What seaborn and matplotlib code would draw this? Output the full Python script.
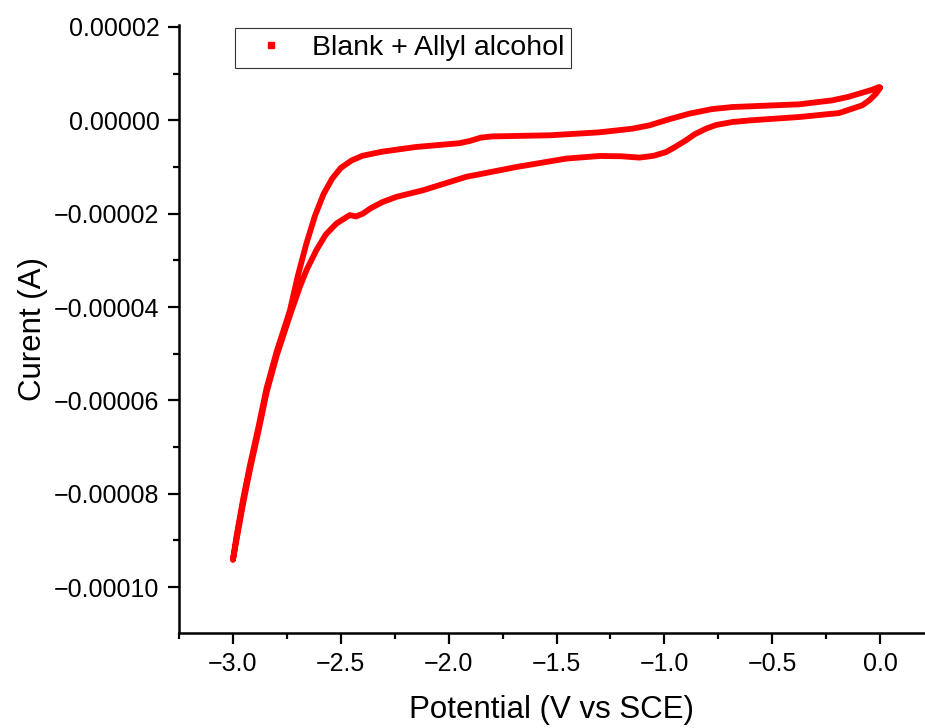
import matplotlib
matplotlib.use("Agg")
import matplotlib.pyplot as plt
import seaborn as sns
import pandas as pd
import numpy as np
from matplotlib.lines import Line2D
from matplotlib.ticker import MultipleLocator, FuncFormatter

# Forward (cathodic) scan: 0 V -> -3 V
fwd_potential = [0.0, -0.019, -0.050, -0.083, -0.190, -0.375, -0.600, -0.684, -0.760, -0.807,
                 -0.860, -0.900, -0.950, -0.992, -1.050, -1.116, -1.200, -1.301, -1.455,
                 -1.686, -1.918, -2.120, -2.242, -2.306, -2.360, -2.398, -2.430, -2.458,
                 -2.520, -2.570, -2.613, -2.659, -2.690, -2.736, -2.797, -2.844, -2.883,
                 -2.921, -2.952, -2.983, -3.0]
fwd_current_uA = [7.0, 5.72, 4.3, 3.21, 1.56, 0.71, 0.0, -0.36, -1.0, -1.78,
                  -3.0, -4.28, -5.7, -6.79, -7.6, -7.99, -7.7, -7.64, -8.20,
                  -10.0, -12.1, -15.0, -16.4, -17.5, -18.8, -20.0, -20.6, -20.3,
                  -22.1, -24.5, -27.8, -32.1, -35.7, -41.8, -50.4, -58.3, -66.9,
                  -74.8, -81.9, -89.8, -94.2]

# Reverse (anodic) scan: -3 V -> 0 V
rev_potential = [-3.0, -2.983, -2.952, -2.921, -2.883, -2.844, -2.797, -2.736, -2.700,
                 -2.660, -2.620, -2.580, -2.540, -2.500, -2.450, -2.400, -2.306, -2.149,
                 -1.950, -1.900, -1.850, -1.800, -1.532, -1.301, -1.150, -1.069, -0.980,
                 -0.884, -0.780, -0.685, -0.375, -0.222, -0.150, -0.097, -0.040, -0.005, 0.0]
rev_current_uA = [-94.2, -89.0, -81.0, -73.9, -66.0, -57.4, -49.5, -40.8, -33.5,
                  -26.5, -20.5, -15.8, -12.5, -10.2, -8.6, -7.6, -6.7, -5.7,
                  -4.9, -4.4, -3.7, -3.45, -3.21, -2.57, -1.8, -1.07, 0.2,
                  1.43, 2.4, 2.85, 3.43, 4.28, 5.0, 5.72, 6.5, 7.13, 7.0]

series_label = "Blank + Allyl alcohol"
x_label = "Potential (V vs SCE)"
y_label = "Curent (A)"

potential = fwd_potential + rev_potential
current = [v * 1e-6 for v in fwd_current_uA + rev_current_uA]
df = pd.DataFrame({"potential": potential, "current": current})

sns.set_theme(style="ticks")
plt.rcParams["font.family"] = ["Liberation Sans", "DejaVu Sans"]
plt.rcParams["text.color"] = "black"
plt.rcParams["axes.labelcolor"] = "black"

fig = plt.figure(figsize=(9.25, 7.28), dpi=100)
ax = fig.add_axes([0.1935, 0.1305, 0.8065, 0.835])

sns.lineplot(data=df, x="potential", y="current", sort=False, estimator=None,
             color="#ff0000", linewidth=4.2, ax=ax, legend=False)

ax.set_xlim(-3.25, 0.208)
ax.set_ylim(-1.0985e-4, 2.04e-5)

ax.xaxis.set_major_locator(MultipleLocator(0.5))
ax.xaxis.set_minor_locator(MultipleLocator(0.25))
ax.yaxis.set_major_locator(MultipleLocator(2e-5))
ax.yaxis.set_minor_locator(MultipleLocator(1e-5))

ax.xaxis.set_major_formatter(FuncFormatter(lambda v, p: f"{v:.1f}".replace("-", "\u2212") if abs(v) > 1e-9 else "0.0"))
ax.yaxis.set_major_formatter(FuncFormatter(lambda v, p: f"{v:.5f}".replace("-", "\u2212") if abs(v) > 1e-12 else "0.00000"))

for side in ["top", "right"]:
    ax.spines[side].set_visible(False)
for side in ["left", "bottom"]:
    ax.spines[side].set_linewidth(1.8)
    ax.spines[side].set_color("black")

ax.tick_params(axis="both", which="major", direction="out", length=8, width=1.6,
               labelsize=18, colors="black", labelcolor="black", pad=6)
ax.tick_params(axis="both", which="minor", direction="out", length=4.5, width=1.6, colors="black")

ax.set_xlabel(x_label, fontsize=22.5, labelpad=13.5, color="black")
ax.set_ylabel(y_label, fontsize=22.5, labelpad=4.5, color="black")

handle = Line2D([], [], linestyle="none", marker="s", markersize=3.8, color="#ff0000")
leg = ax.legend([handle], [series_label], loc="upper left", bbox_to_anchor=(0.075, 0.995),
                borderaxespad=0, fontsize=20.5, frameon=True, fancybox=False,
                handlelength=2.0, handletextpad=0.45, borderpad=0.25)
leg.get_frame().set_edgecolor("black")
leg.get_frame().set_linewidth(0.8)
for t in leg.get_texts():
    t.set_color("black")

fig.savefig("out.png", dpi=100)
